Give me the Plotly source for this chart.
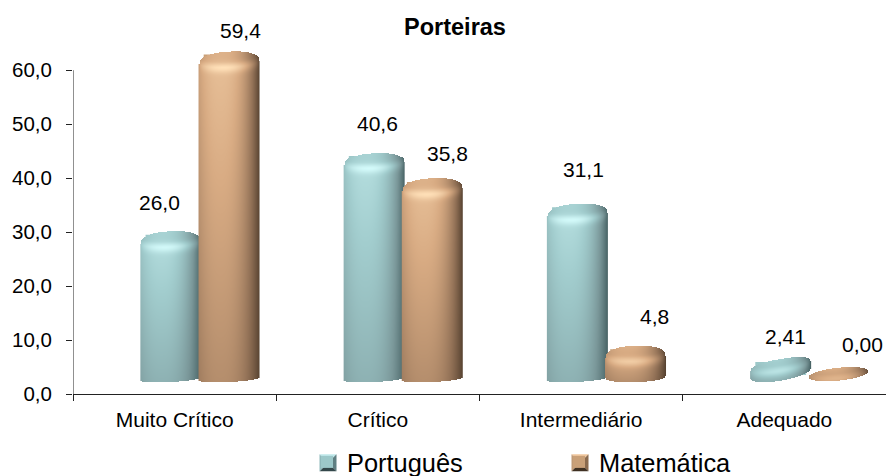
import numpy as np
import plotly.graph_objects as go

categories = ["Muito Crítico", "Crítico", "Intermediário", "Adequado"]
portugues = [26.0, 40.6, 31.1, 2.41]
matematica = [59.4, 35.8, 4.8, 0.00]
portugues_text = ["26,0", "40,6", "31,1", "2,41"]
matematica_text = ["59,4", "35,8", "4,8", "0,00"]
y_ticks = [0, 10, 20, 30, 40, 50, 60]
y_tick_text = ["0,0", "10,0", "20,0", "30,0", "40,0", "50,0", "60,0"]

# styling of the pseudo-3D look
TEAL = [[0, "#3a5557"], [0.35, "#7a9799"], [0.7, "#a2cdce"], [1, "#d4fbfb"]]
BROWN = [[0, "#463526"], [0.35, "#937257"], [0.7, "#d8ab83"], [1, "#ffe0b8"]]
SOLID = ["#9cc8c9", "#c9a078"]
W = 0.148           # half width of a cylinder in x units
SLOTS = [0.482, 0.768]
PX_X = 813 / 4
PX_Y = 5.41
YMAX = 68
TOP_PX = 394.5 - YMAX * PX_Y
tilts_px = [[3, 3, 3.5, 10], [3, 3, 2, 6]]
label_dx = [[-11, 3, 6, 5], [11, 15, 19, 24]]
label_dy = [[29, 29, 34, 22], [20, 25, 29, 27]]
AXIS_FONT = 20.5
LABEL_FONT = 21
CAT_FONT = 21
TITLE_FONT = 23.5
LEGEND_FONT = 25.4


def cylinder(v, tilt_px):
    tilt = tilt_px / PX_Y
    if v < 1:            # empty bar: only a flat disc is left
        T, B, H, D, off, p = v + 4.8, 2.4, 1.2, 1.2, 0.0, 2.0
    elif v < 3:          # very short bar: thick tilted disc
        T, B, H, D, off, p = v + 4.12, 2.53, 1.3, 1.3, 0.0, 2.4
    elif v < 10:
        T, B, H, D, off, p = v + 4.2, 2.1, 2.0, 0.9, tilt * 0.2, 2.3
    else:
        T, B, H, D, off, p = v + 4.2, 2.1, 2.0, 0.55, tilt * 0.2, 2.3
    xs = np.linspace(-1, 1, 61)
    ys = np.arange(B - 2.0, T + 2.0, 1 / PX_Y)
    U, Y = np.meshgrid(xs, ys)
    prof = (1 - np.abs(U) ** p) ** (1 / p)
    ell = np.sqrt(np.clip(1 - U ** 2, 0, 1))
    slope = tilt * U * 0.5
    top = T - H + H * prof + slope - off
    bot = B + D - D * ell + slope + off
    hor = 1 - (np.abs(U + 0.3) / 1.3) ** 2.4
    frac = np.clip((Y - B) / max(T - B, 1e-6), 0, 1)
    z = hor * (0.44 + 0.30 * frac) + 0.08
    rim = T - H - 0.9 * ell + slope - off
    z = z + 0.20 * np.exp(-(((Y - rim) / 1.0) ** 2)) * ell
    z = z * (1 - 0.10 * np.clip((Y - rim) / 1.0, 0, 1))
    z = np.clip(z, 0, 1)
    z = np.where((Y > top) | (Y < bot), np.nan, z)
    return xs * W, ys, np.round(z, 3)


def px(x):
    return (x - 73) / 813


def py(y):
    return (394.5 - y) / (394.5 - TOP_PX)


def pyramid(x0, y0, s, cols):
    cx, cy = x0 + s / 2, y0 + s / 2
    c = [(x0, y0), (x0 + s, y0), (x0 + s, y0 + s), (x0, y0 + s)]
    out = []
    for k, col in enumerate(cols):
        a, b = c[k], c[(k + 1) % 4]
        path = "M{},{} L{},{} L{},{} Z".format(px(a[0]), py(a[1]), px(b[0]), py(b[1]), px(cx), py(cy))
        out.append(dict(type="path", xref="paper", yref="paper", path=path,
                        fillcolor=col, line=dict(width=0)))
    return out


fig = go.Figure()
series = [("Português", portugues, TEAL), ("Matemática", matematica, BROWN)]

for s, (name, vals, _) in enumerate(series):
    fig.add_trace(go.Bar(
        name=name, x=[i + SLOTS[s] for i in range(4)], y=vals,
        base=3.5, width=0.25, marker=dict(color=SOLID[s], line_width=0),
        hoverinfo="skip",
    ))

# draw order: Matemática over Português, except the flat last pair
order = [(0, 0), (1, 0), (0, 1), (1, 1), (0, 2), (1, 2), (1, 3), (0, 3)]
for s, i in order:
    xs, ys, z = cylinder(series[s][1][i], tilts_px[s][i])
    fig.add_trace(go.Heatmap(
        x=xs + i + SLOTS[s], y=ys, z=z, zmin=0, zmax=1,
        colorscale=series[s][2], showscale=False, hoverinfo="skip",
        xaxis="x2", yaxis="y2", showlegend=False,
    ))

annotations = []
for s, texts in enumerate([portugues_text, matematica_text]):
    for i, t in enumerate(texts):
        annotations.append(dict(
            x=i + SLOTS[s], y=series[s][1][i] + 4.2, xref="x", yref="y", text=t,
            showarrow=False, xshift=label_dx[s][i], yshift=label_dy[s][i],
            xanchor="center", yanchor="middle",
            font=dict(family="Liberation Sans", size=LABEL_FONT, color="#000"),
        ))

shapes = [dict(type="line", xref="x", yref="y", x0=0, x1=0, y0=0, y1=60,
               line=dict(color="#222", width=1))]
shapes += pyramid(319.5, 455, 17, ["#bfe8ea", "#5f7f82", "#33474a", "#8fb9bb"])
shapes += pyramid(571.5, 455, 17, ["#f0c79e", "#8a6a4e", "#3f3022", "#c09a76"])

fig.update_layout(
    width=886, height=476, paper_bgcolor="white", plot_bgcolor="white",
    margin=dict(l=73, r=0, t=TOP_PX, b=81.5, pad=0, autoexpand=False),
    barmode="overlay", showlegend=True, annotations=annotations, shapes=shapes,
    font=dict(family="Liberation Sans", color="#000"),
    title=dict(text="<b>Porteiras</b>", x=455 / 886, xanchor="center", y=1 - 27 / 476,
               yanchor="middle", font=dict(family="Liberation Sans", size=TITLE_FONT, color="#000")),
    xaxis=dict(range=[0, 4], tickmode="array", tickvals=[0.5, 1.5, 2.5, 3.5],
               ticktext=categories, ticks="", showgrid=False, zeroline=False,
               showline=True, linecolor="#222", linewidth=1,
               minor=dict(tickmode="array", tickvals=[0, 1, 2, 3, 4], ticks="outside",
                          ticklen=6, tickcolor="#222", tickwidth=1, showgrid=False),
               ticklabelstandoff=7,
               tickfont=dict(size=CAT_FONT, family="Liberation Sans", color="#000")),
    yaxis=dict(range=[0, YMAX], tickmode="array", tickvals=y_ticks, ticktext=y_tick_text,
               ticks="outside", ticklen=6, tickcolor="#222", showgrid=False, zeroline=False,
               showline=False, ticklabelstandoff=10,
               tickfont=dict(size=AXIS_FONT, family="Liberation Sans", color="#000")),
    xaxis2=dict(range=[0, 4], overlaying="x", visible=False),
    yaxis2=dict(range=[0, YMAX], overlaying="y", visible=False),
    legend=dict(orientation="h", x=px(307), y=py(439.5), xanchor="left", yanchor="top",
                font=dict(size=LEGEND_FONT, family="Liberation Sans", color="#000"),
                entrywidth=207, entrywidthmode="pixels", bgcolor="rgba(0,0,0,0)",
                traceorder="normal"),
)
fig.write_html("out.html", post_script="document.body.style.margin='0';",
               config={"displayModeBar": False})
